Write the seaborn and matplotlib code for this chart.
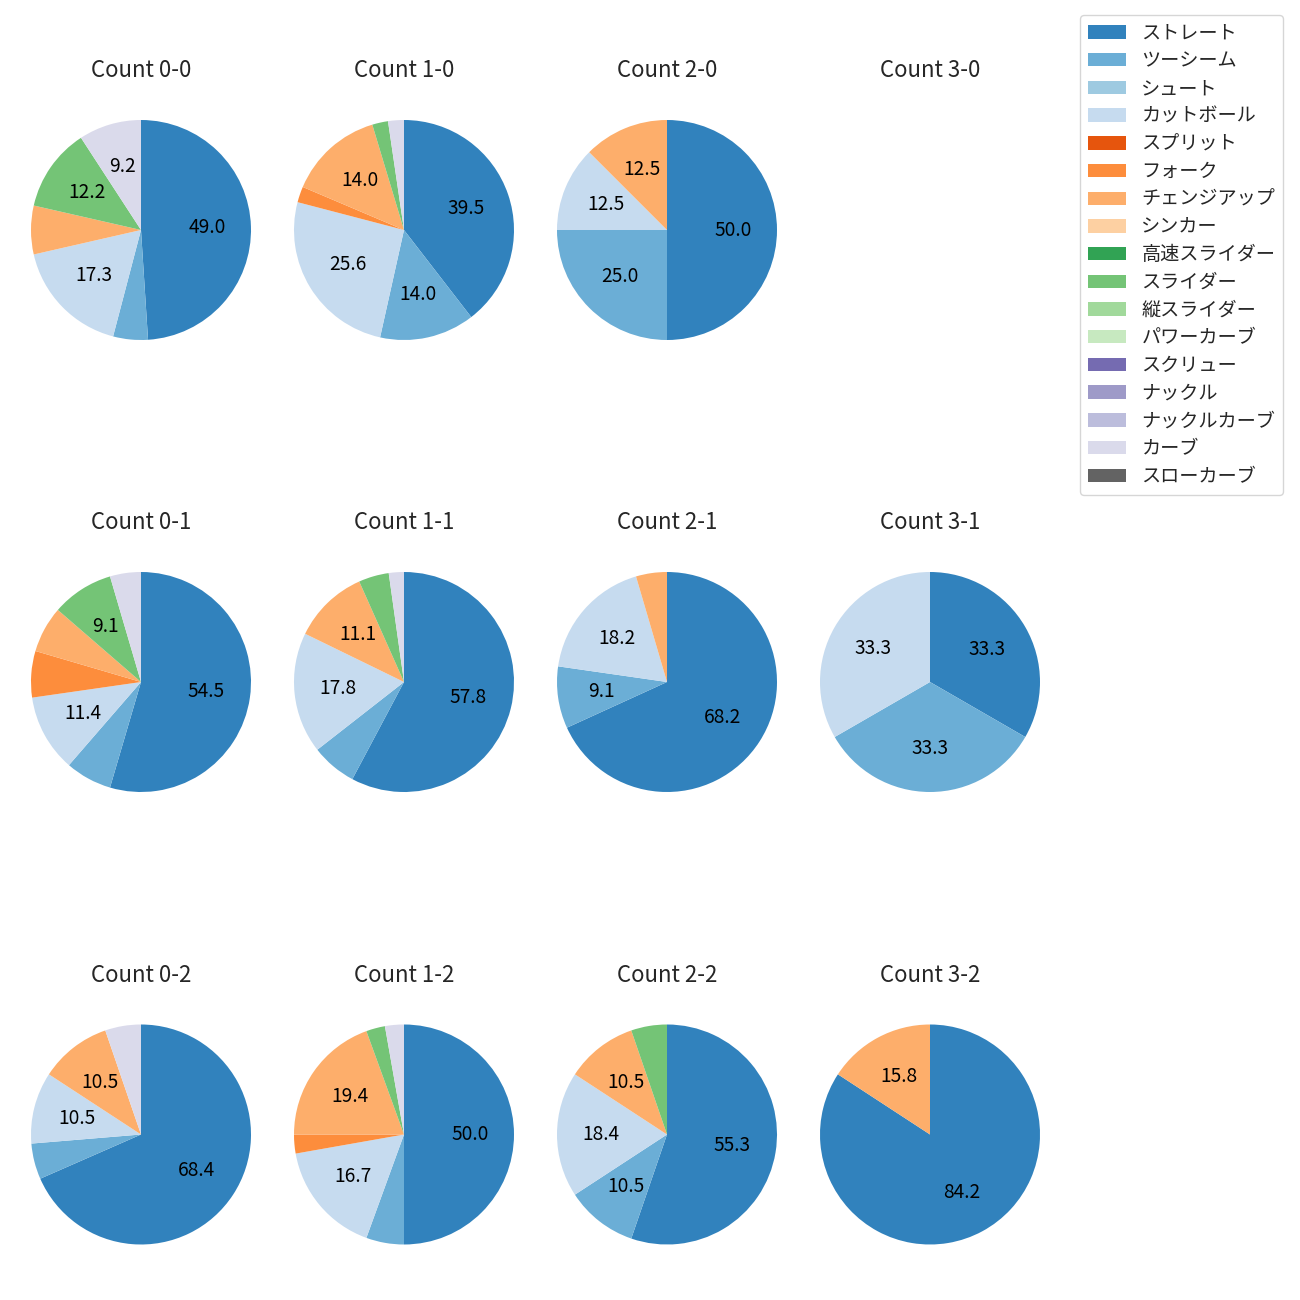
import matplotlib
matplotlib.use("Agg")
import matplotlib.pyplot as plt
from matplotlib.patches import Patch
import seaborn as sns

sns.set_theme(style="white")
plt.rcParams['font.family'] = ['Noto Sans CJK JP', 'DejaVu Sans']

pitch_types = ["ストレート", "ツーシーム", "シュート", "カットボール", "スプリット", "フォーク",
               "チェンジアップ", "シンカー", "高速スライダー", "スライダー", "縦スライダー",
               "パワーカーブ", "スクリュー", "ナックル", "ナックルカーブ", "カーブ", "スローカーブ"]

count_labels = ["0-0", "1-0", "2-0", "3-0",
                "0-1", "1-1", "2-1", "3-1",
                "0-2", "1-2", "2-2", "3-2"]

# pitch counts per ball-strike count, in pitch_types order
c_0_0 = [48, 5, 0, 17, 0, 0, 7, 0, 0, 12, 0, 0, 0, 0, 0, 9, 0]
c_1_0 = [17, 6, 0, 11, 0, 1, 6, 0, 0, 1, 0, 0, 0, 0, 0, 1, 0]
c_2_0 = [4, 2, 0, 1, 0, 0, 1, 0, 0, 0, 0, 0, 0, 0, 0, 0, 0]
c_3_0 = [0, 0, 0, 0, 0, 0, 0, 0, 0, 0, 0, 0, 0, 0, 0, 0, 0]
c_0_1 = [24, 3, 0, 5, 0, 3, 3, 0, 0, 4, 0, 0, 0, 0, 0, 2, 0]
c_1_1 = [26, 3, 0, 8, 0, 0, 5, 0, 0, 2, 0, 0, 0, 0, 0, 1, 0]
c_2_1 = [15, 2, 0, 4, 0, 0, 1, 0, 0, 0, 0, 0, 0, 0, 0, 0, 0]
c_3_1 = [1, 1, 0, 1, 0, 0, 0, 0, 0, 0, 0, 0, 0, 0, 0, 0, 0]
c_0_2 = [26, 2, 0, 4, 0, 0, 4, 0, 0, 0, 0, 0, 0, 0, 0, 2, 0]
c_1_2 = [18, 2, 0, 6, 0, 1, 7, 0, 0, 1, 0, 0, 0, 0, 0, 1, 0]
c_2_2 = [21, 4, 0, 7, 0, 0, 4, 0, 0, 2, 0, 0, 0, 0, 0, 0, 0]
c_3_2 = [16, 0, 0, 0, 0, 0, 3, 0, 0, 0, 0, 0, 0, 0, 0, 0, 0]

all_counts = [c_0_0, c_1_0, c_2_0, c_3_0,
              c_0_1, c_1_1, c_2_1, c_3_1,
              c_0_2, c_1_2, c_2_2, c_3_2]

palette = sns.color_palette("tab20c", 20)[:len(pitch_types)]

W = H = 1300
fig = plt.figure(figsize=(13, 13), dpi=100)

col_cx = [141, 404, 667, 930]
row_cy = [230, 682, 1134.5]
side = 275.0

def fmt(p):
    return f"{p:.1f}" if p >= 8 else ""

for i, (lab, vals) in enumerate(zip(count_labels, all_counts)):
    r, c = divmod(i, 4)
    cx, cy = col_cx[c], row_cy[r]
    ax = fig.add_axes([(cx - side / 2) / W, 1 - (cy + side / 2) / H, side / W, side / H])
    idx = [k for k, v in enumerate(vals) if v > 0]
    if idx:
        ax.pie([vals[k] for k in idx], colors=[palette[k] for k in idx],
               startangle=90, counterclock=False, autopct=fmt,
               wedgeprops={'linewidth': 0, 'edgecolor': 'none'},
               textprops={'fontsize': 13.8, 'color': 'black'})
    else:
        ax.axis('off')
    ax.set_title(f"Count {lab}", fontsize=16, pad=11)

handles = [Patch(facecolor=palette[k], edgecolor='none', label=pitch_types[k])
           for k in range(len(pitch_types))]
fig.legend(handles=handles, loc='upper right', bbox_to_anchor=(1283 / W, 1 - 15 / H),
           borderaxespad=0, fontsize=13.8, frameon=True, labelspacing=0.35)

fig.savefig("out.png", dpi=100)
